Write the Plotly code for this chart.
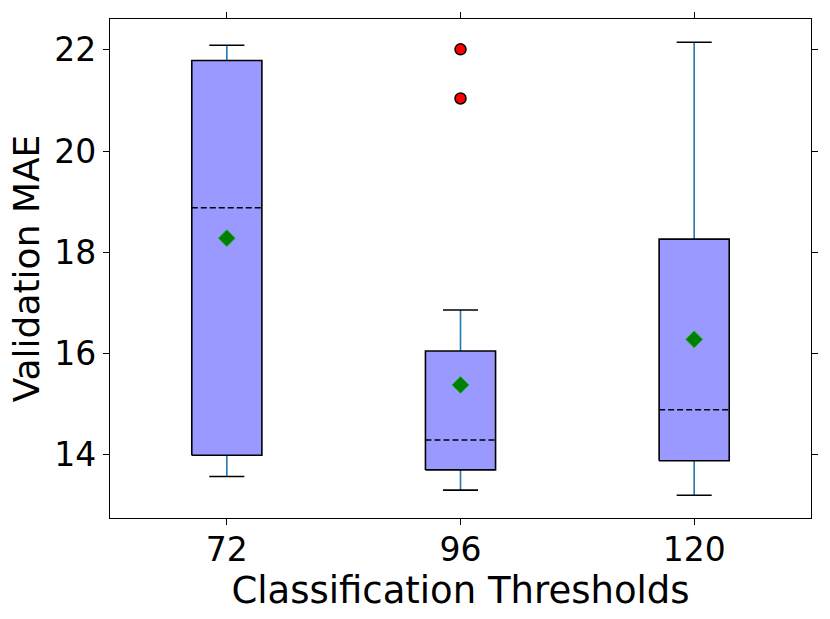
import plotly.graph_objects as go

# ---- data ----
categories = ["72", "96", "120"]
whisker_low = [13.57, 13.30, 13.20]
q1 = [13.99, 13.70, 13.88]
median = [18.88, 14.29, 14.89]
q3 = [21.79, 16.05, 18.26]
whisker_high = [22.09, 16.86, 22.15]
means = [18.28, 15.38, 16.28]
outlier_cat = ["96", "96"]
outlier_val = [22.01, 21.04]

# ---- style ----
BOX_W = 0.3
CAP_W = 0.15
FONT = "DejaVu Sans"

pos = {c: i + 1 for i, c in enumerate(categories)}

fig = go.Figure()

# whiskers
wx, wy = [], []
for c, lo, a, b, hi in zip(categories, whisker_low, q1, q3, whisker_high):
    p = pos[c]
    wx += [p, p, None, p, p, None]
    wy += [lo, a, None, b, hi, None]
fig.add_trace(go.Scatter(x=wx, y=wy, mode="lines",
                         line=dict(color="#1f77b4", width=1.6), hoverinfo="skip"))

# caps
cx, cy = [], []
for c, lo, hi in zip(categories, whisker_low, whisker_high):
    p = pos[c]
    cx += [p - CAP_W / 2, p + CAP_W / 2, None, p - CAP_W / 2, p + CAP_W / 2, None]
    cy += [lo, lo, None, hi, hi, None]
fig.add_trace(go.Scatter(x=cx, y=cy, mode="lines",
                         line=dict(color="black", width=1.6), hoverinfo="skip"))

# boxes
for c, a, b in zip(categories, q1, q3):
    p = pos[c]
    fig.add_trace(go.Scatter(
        x=[p - BOX_W / 2, p + BOX_W / 2, p + BOX_W / 2, p - BOX_W / 2, p - BOX_W / 2],
        y=[a, a, b, b, a], mode="lines", fill="toself",
        fillcolor="rgba(0,0,255,0.4)", line=dict(color="black", width=1.6),
        hoverinfo="skip"))

# medians
mx, my = [], []
for c, m in zip(categories, median):
    p = pos[c]
    mx += [p - BOX_W / 2, p + BOX_W / 2, None]
    my += [m, m, None]
fig.add_trace(go.Scatter(x=mx, y=my, mode="lines",
                         line=dict(color="black", width=1.6, dash="6px,3px"),
                         hoverinfo="skip"))

# means
fig.add_trace(go.Scatter(x=[pos[c] for c in categories], y=means, mode="markers",
                         marker=dict(symbol="diamond", size=13, color="#008000",
                                     line=dict(color="#33aa33", width=1)),
                         hoverinfo="skip"))

# outliers
fig.add_trace(go.Scatter(x=[pos[c] for c in outlier_cat], y=outlier_val, mode="markers",
                         marker=dict(symbol="circle", size=11, color="red",
                                     line=dict(color="black", width=1.5)),
                         hoverinfo="skip"))

fig.update_layout(
    width=830, height=619,
    margin=dict(l=110, r=19, t=19, b=101),
    paper_bgcolor="white", plot_bgcolor="white",
    showlegend=False,
    font=dict(family=FONT, color="black"),
)
fig.update_xaxes(
    range=[0.5, 3.5], tickvals=[pos[c] for c in categories], ticktext=categories,
    showgrid=False, zeroline=False, showline=True, linecolor="black", linewidth=1.3,
    mirror="ticks", ticks="outside", ticklen=6, tickwidth=1.3, tickcolor="black",
    tickfont=dict(size=33, family=FONT), ticklabelstandoff=-4,
    title=dict(text="Classification Thresholds", font=dict(size=37, family=FONT), standoff=0),
)
fig.update_yaxes(
    range=[12.75, 22.61], tickvals=[14, 16, 18, 20, 22],
    showgrid=False, zeroline=False, showline=True, linecolor="black", linewidth=1.3,
    mirror="ticks", ticks="outside", ticklen=6, tickwidth=1.3, tickcolor="black",
    tickfont=dict(size=33, family=FONT),
    title=dict(text="Validation MAE", font=dict(size=36, family=FONT), standoff=3),
)

fig.write_html("out.html", config={"displayModeBar": False},
               post_script="document.body.style.margin='0px';document.body.style.padding='0px';")
